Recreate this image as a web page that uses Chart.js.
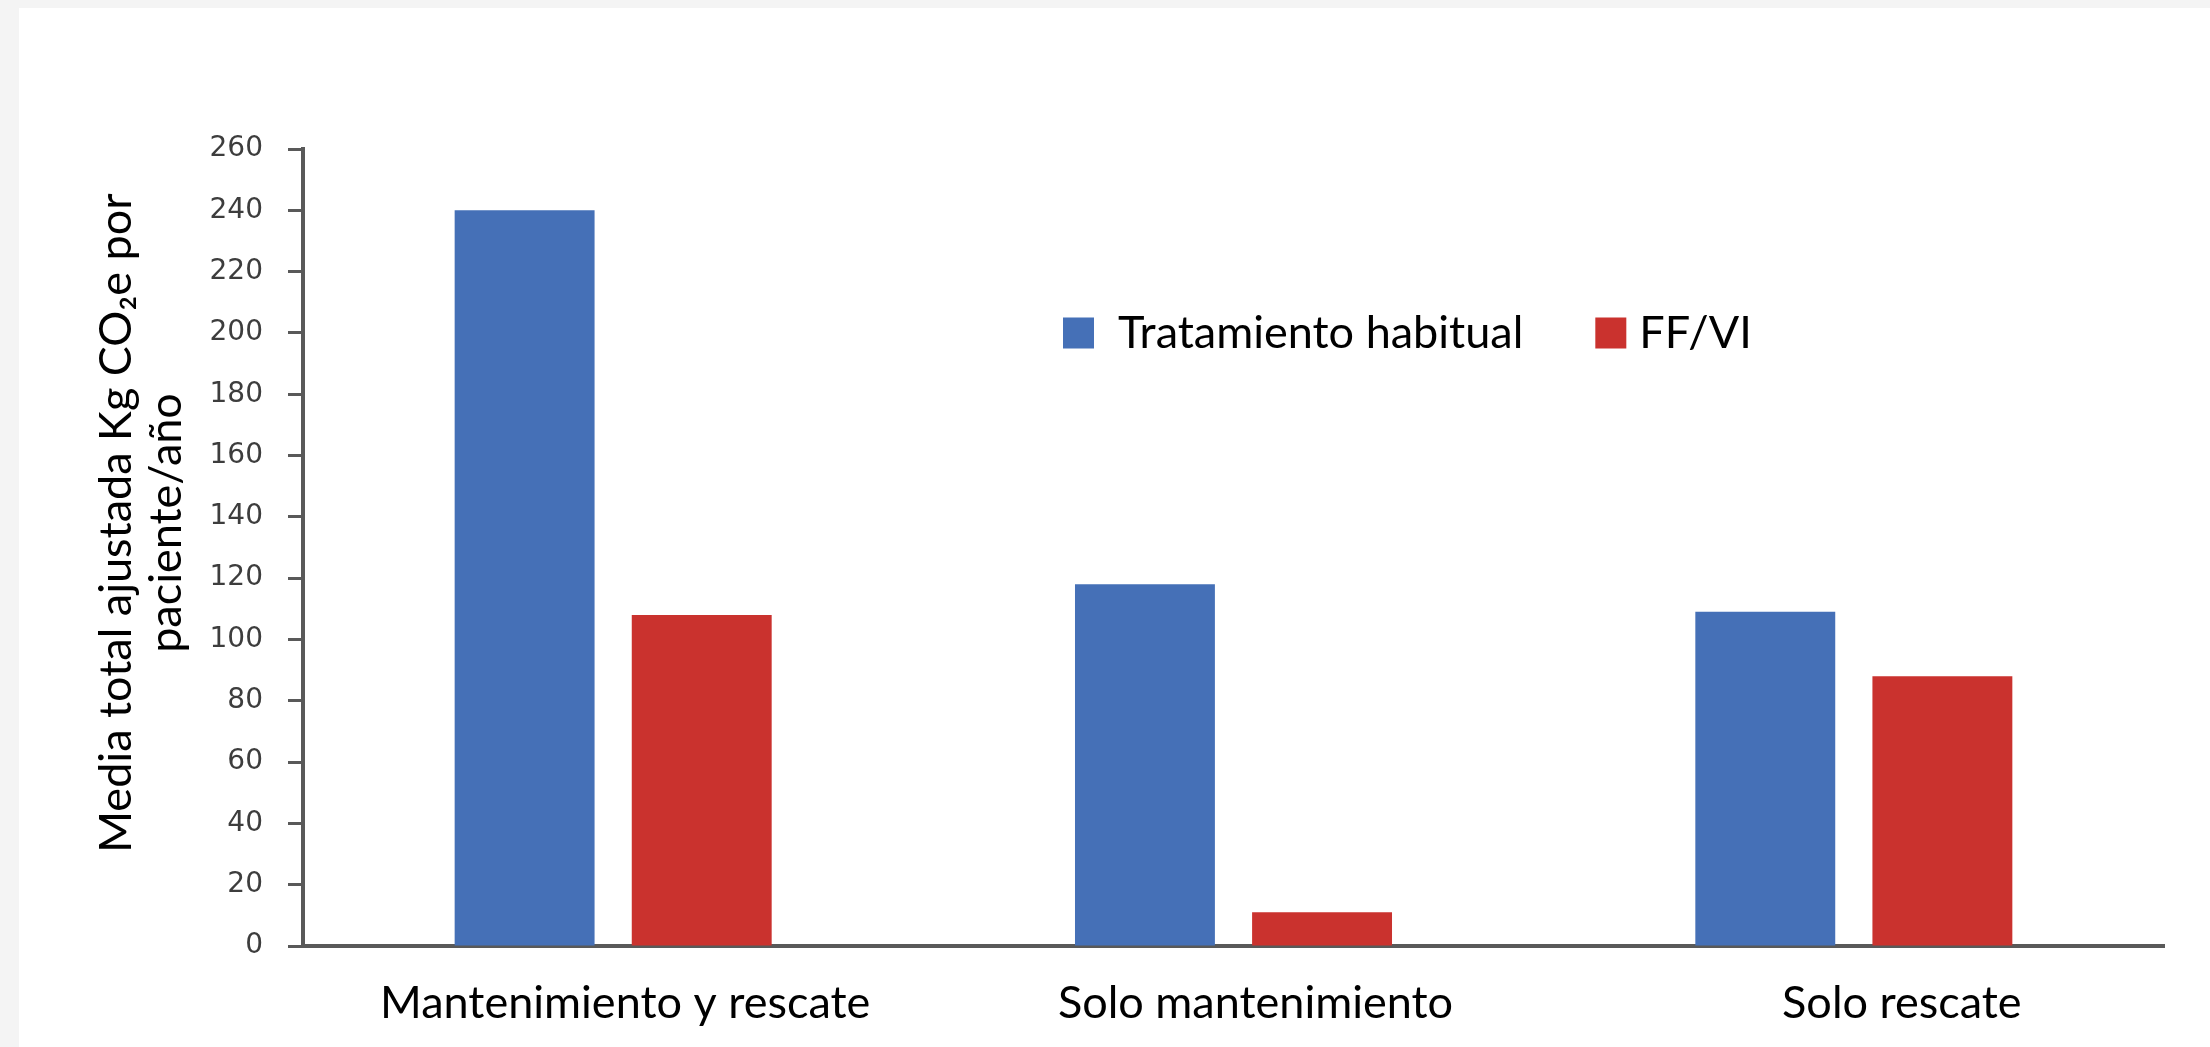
<!DOCTYPE html>
<html lang="es">
<head>
<meta charset="utf-8">
<title>Huella de carbono por paciente</title>
<script src="https://cdn.jsdelivr.net/npm/chart.js@4.4.1/dist/chart.umd.min.js"></script>
<style>
  html, body { margin: 0; padding: 0; background: #f4f4f4; }
  .card { position: absolute; left: 19px; top: 8px; right: 0; bottom: 0; background: #fff; }
  .wrap { position: absolute; left: 0; top: 0; width: 2210px; height: 1047px; }
</style>
</head>
<body>
<div class="card"></div>
<div class="wrap"><canvas id="co2Chart"></canvas></div>
<script>
// categorías y series
const categories = ['Mantenimiento y rescate', 'Solo mantenimiento', 'Solo rescate'];
const habitual = [240, 118, 109];
const ffvi = [108, 11, 88];
const seriesNames = ['Tratamiento habitual', 'FF/VI'];
const yTitle = ['Media total ajustada Kg CO\u2082e por', 'paciente/año'];

const TEXT_FONT = '45px Lato, "Open Sans", sans-serif';
const AXIS_COLOR = '#595959';

// pequeños desplazamientos de las etiquetas del eje x
const labelNudge = [12, 22, 48];
// separación entre cuadro y texto de cada entrada de la leyenda
const legendGap = [24, 13];

// etiquetas de categoría dibujadas bajo el eje
const categoryLabels = {
  id: 'categoryLabels',
  afterDraw(chart) {
    const x = chart.scales.x;
    const ctx = chart.ctx;
    ctx.save();
    ctx.font = TEXT_FONT;
    ctx.fillStyle = '#000';
    ctx.textAlign = 'center';
    ctx.textBaseline = 'middle';
    chart.data.labels.forEach((lab, i) => {
      ctx.fillText(lab, x.getPixelForValue(i) + labelNudge[i], chart.chartArea.bottom + 57);
    });
    ctx.restore();
  }
};

// título vertical del eje y, en dos líneas
const axisTitle = {
  id: 'axisTitle',
  afterDraw(chart) {
    const ctx = chart.ctx;
    ctx.save();
    ctx.translate(116, 523);
    ctx.rotate(-Math.PI / 2);
    ctx.font = TEXT_FONT;
    ctx.fillStyle = '#000';
    ctx.textAlign = 'center';
    ctx.textBaseline = 'middle';
    yTitle.forEach((line, i) => ctx.fillText(line, 0, i * 50));
    ctx.restore();
  }
};

// leyenda dentro del área del gráfico
const innerLegend = {
  id: 'innerLegend',
  afterDraw(chart) {
    const ctx = chart.ctx;
    const box = 31;
    let x = 1063;
    const y = 333;
    ctx.save();
    ctx.font = TEXT_FONT;
    ctx.textBaseline = 'middle';
    chart.data.datasets.forEach((ds, i) => {
      ctx.fillStyle = ds.backgroundColor;
      ctx.fillRect(x, y - box / 2, box, box);
      x += box + legendGap[i];
      ctx.fillStyle = '#000';
      ctx.fillText(ds.label, x, y);
      x += ctx.measureText(ds.label).width + 72;
    });
    ctx.restore();
  }
};

new Chart(document.getElementById('co2Chart'), {
  type: 'bar',
  data: {
    labels: categories,
    datasets: [
      { label: seriesNames[0], data: habitual, backgroundColor: '#4570b7' },
      { label: seriesNames[1], data: ffvi, backgroundColor: '#ca322e' }
    ]
  },
  options: {
    responsive: true,
    maintainAspectRatio: false,
    animation: false,
    devicePixelRatio: 1,
    layout: { padding: { top: 149, right: 46, bottom: 0, left: 0 } },
    datasets: {
      bar: { categoryPercentage: 0.571, barPercentage: 0.79 }
    },
    scales: {
      x: {
        grid: { display: false },
        border: { display: true, color: AXIS_COLOR, width: 4 },
        ticks: { display: false },
        afterFit(s) { s.height = 101; }
      },
      y: {
        min: 0,
        max: 260,
        ticks: {
          stepSize: 20,
          padding: 25,
          color: '#3d3d3d',
          font: { family: 'DejaVu Sans', size: 28 }
        },
        grid: {
          drawOnChartArea: false,
          drawTicks: true,
          tickLength: 15,
          tickWidth: 3,
          tickColor: AXIS_COLOR
        },
        border: { display: true, color: AXIS_COLOR, width: 4 },
        afterFit(s) { s.width = 303; }
      }
    },
    plugins: {
      legend: { display: false },
      tooltip: { enabled: false }
    }
  },
  plugins: [categoryLabels, axisTitle, innerLegend]
});
</script>
</body>
</html>
